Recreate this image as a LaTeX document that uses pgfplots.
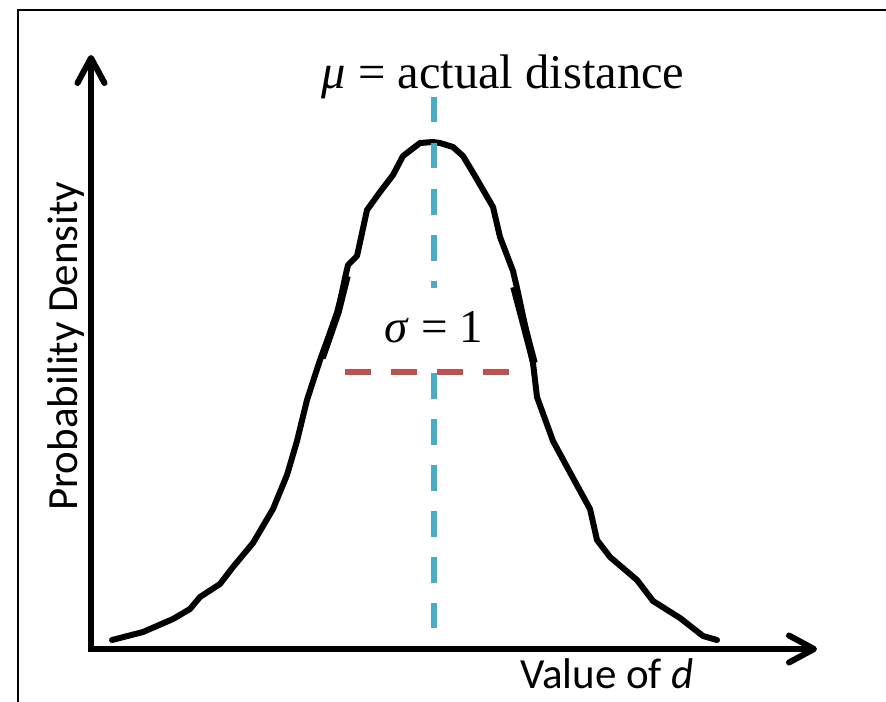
\documentclass[border=0pt]{standalone}
\usepackage{fontspec}
\setmainfont{Liberation Serif}
\newfontfamily\calibri{Carlito}
\usepackage{pgfplots}
\pgfplotsset{compat=1.18}
\usetikzlibrary{arrows.meta}
\definecolor{muline}{HTML}{4BACC6}
\definecolor{sigline}{HTML}{C0504D}

\begin{document}
\begin{tikzpicture}
% one axis in picture pixels, y running downwards like the original
\begin{axis}[
  at={(0,0)}, anchor=south west,
  width=886bp, height=702bp, scale only axis,
  xmin=0, xmax=886, ymin=0, ymax=702, y dir=reverse,
  hide axis, clip=false,
]
  % frame (only top and left edges are inside the picture)
  \draw[line width=2.5bp] (axis cs:18,702) -- (axis cs:18,10) -- (axis cs:886,10);

  % density curve, traced by hand
  \addplot[black, line width=6bp, line join=round, line cap=round] coordinates {
    (112,640) (143,632) (173,619) (190,609) (200,597) (220,584) (233,567)
    (253,543) (273,509) (287,475) (297,441) (307,400) (320,360) (338,312)
    (345,278) (348,265) (357,256) (367,210) (380,192) (393,175) (403,156)
    (420,143) (433,142) (440,143) (453,147) (463,156) (475,176) (493,207)
    (500,237) (513,271) (517,288) (533,363) (537,397) (553,441) (573,478)
    (590,509) (597,540) (610,557) (637,580) (653,601) (680,618) (703,636)
    (717,640)
  };
  % the two heavier strokes on the flanks
  \addplot[black, line width=7.5bp] coordinates {(322,358) (338,312) (347,276)};
  \addplot[black, line width=7.5bp] coordinates {(514,287) (524,325) (534,363)};

  % mean line
  \addplot[muline, line width=6bp, dash pattern=on 25.5bp off 20.5bp]
    coordinates {(434,97) (434,628)};
  % sigma line
  \addplot[sigline, line width=6bp, dash pattern=on 26bp off 20bp]
    coordinates {(345,372) (509,372)};

  % axes
  \draw[line width=6bp, line join=miter,
        {Straight Barb[length=25bp,width=27bp,round]}-{Straight Barb[length=25bp,width=27bp,round]}]
    (axis cs:91,55) -- (axis cs:91,649) -- (axis cs:817,649);

  % labels
  \node[fill=white, inner sep=0pt, text height=54bp, text depth=16bp, anchor=base,
        font=\fontsize{47bp}{50bp}\selectfont] at (axis cs:434,342) {\textit{σ} = 1};
  \node[anchor=base, font=\fontsize{48.5bp}{52bp}\selectfont]
    at (axis cs:503,89) {\textit{μ} = actual distance};
  \node[anchor=base, rotate=90, font=\calibri\fontsize{43bp}{46bp}\selectfont]
    at (axis cs:77,346) {Probability Density};
  \node[anchor=base, font=\calibri\fontsize{43bp}{46bp}\selectfont]
    at (axis cs:607,688) {Value of \textit{d}};
\end{axis}
\pgfresetboundingbox
\useasboundingbox (0,0) rectangle (886bp,702bp);
\end{tikzpicture}
\end{document}
